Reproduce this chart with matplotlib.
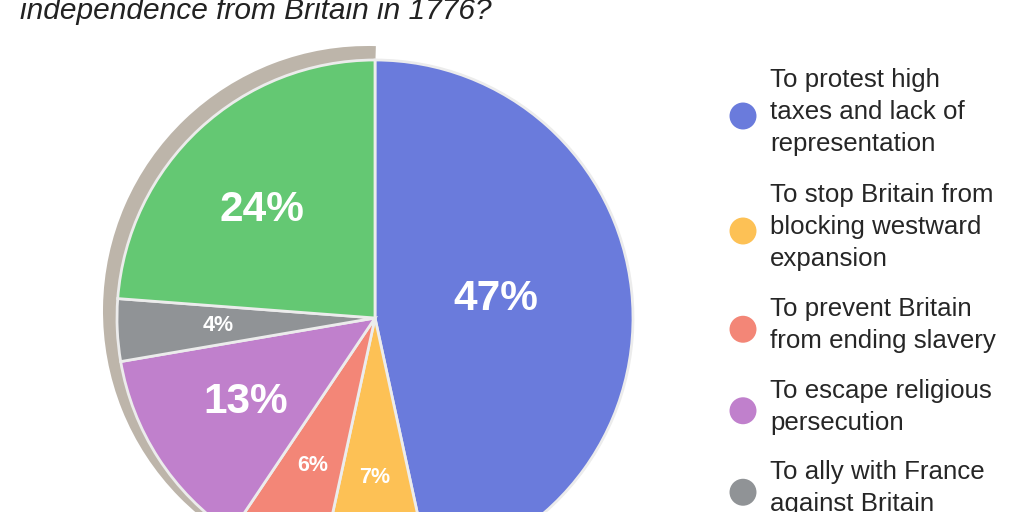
import numpy as np
import matplotlib.pyplot as plt
from matplotlib.patches import Wedge

plt.rcParams['font.family'] = ['Liberation Sans', 'DejaVu Sans']

title = 'independence from Britain in 1776?'
answers = [
    'To protest high\ntaxes and lack of\nrepresentation',
    'To stop Britain from\nblocking westward\nexpansion',
    'To prevent Britain\nfrom ending slavery',
    'To escape religious\npersecution',
    'To ally with France\nagainst Britain',
]
shares = [46.6, 6.8, 6.0, 12.9, 3.9, 23.8]
colors = ['#6a7bdc', '#fdc155', '#f38677', '#c080cc', '#909396', '#64c873']
label_dist = [0.474, 0.62, 0.62, 0.596, 0.61, 0.607]
label_shift = [-2.6, 0, 0, 0, 0, -3.4]   # degrees, nudges for the big labels

W, H = 1024, 512
fig = plt.figure(figsize=(W / 100, H / 100), dpi=100)

# pie placed in pixel terms: centre (375, 318) from top-left, radius 258
cx, cy, R = 375, 318, 258
pad = 1.1
side = 2 * pad * R
ax = fig.add_axes([(cx - pad * R) / W, (H - cy - pad * R) / H, side / W, side / H])

# grey shadow behind the left half
px = 1 / R
ax.add_patch(Wedge((-7 * px, 7 * px), 265 * px, 88.3, 270, facecolor='#bdb5aa',
                   edgecolor='none', zorder=0))

wedges, _ = ax.pie(shares, colors=colors, startangle=90, counterclock=False,
                   radius=1, wedgeprops=dict(edgecolor='#ececec', linewidth=2))
for w in wedges:
    w.set_zorder(1)

start = 90.0
for val, d, sh in zip(shares, label_dist, label_shift):
    mid = np.deg2rad(start - val / 100 * 360 / 2 - sh)
    start -= val / 100 * 360
    big = val >= 10
    ax.text(d * np.cos(mid), d * np.sin(mid), f'{round(val)}%', color='white',
            fontsize=30.5 if big else 15.5, fontweight='bold',
            ha='center', va='center', zorder=3)

ax.set_xlim(-pad, pad)
ax.set_ylim(-pad, pad)
ax.set_aspect('equal')
ax.axis('off')

# overlay in pixel coordinates for title and legend
ov = fig.add_axes([0, 0, 1, 1])
ov.set_xlim(0, W)
ov.set_ylim(H, 0)
ov.axis('off')
ov.patch.set_alpha(0)

ov.text(20, 19, title, fontsize=21.5, style='italic', color='#222222', va='baseline')

line_h, gap = 33.5, 14.5
y = 112 - 1.5 * line_h
for text, col in zip(answers, colors):
    n = text.count('\n') + 1
    yc = y + n * line_h / 2
    ov.scatter([743], [yc + 4], s=377, color=col, edgecolors='none')
    ov.text(770, yc, text, fontsize=18.6, color='#262626', va='center', ha='left',
            linespacing=1.4)
    y += n * line_h + gap

fig.savefig('out.png', dpi=100)
